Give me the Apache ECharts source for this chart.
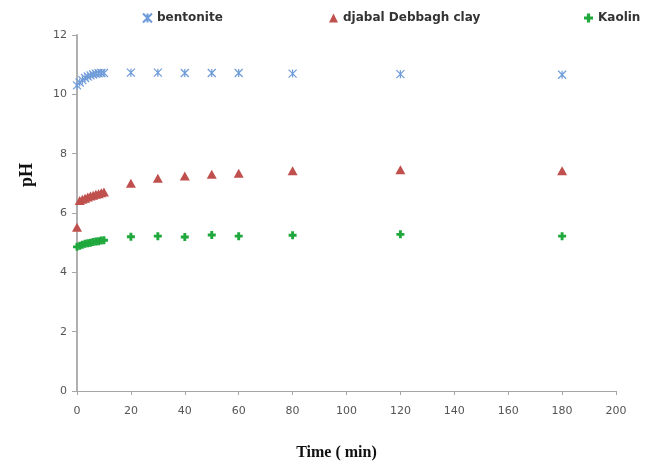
<!DOCTYPE html>
<html><head><meta charset="utf-8">
<script src="https://cdn.jsdelivr.net/npm/echarts@6/dist/echarts.min.js"></script>
<style>html,body{margin:0;padding:0;background:#fff}#c{width:646px;height:468px}</style>
</head><body><div id="c"></div>
<script>
const time = [0,1,2,3,4,5,6,7,8,9,10,20,30,40,50,60,80,120,180];
const bentonite = [10.30,10.40,10.48,10.55,10.60,10.64,10.67,10.70,10.71,10.72,10.72,10.73,10.73,10.72,10.72,10.72,10.70,10.68,10.66];
const djabal = [5.52,6.42,6.46,6.50,6.54,6.57,6.60,6.63,6.65,6.68,6.71,7.00,7.17,7.25,7.31,7.34,7.42,7.46,7.42];
const kaolin = [4.86,4.90,4.93,4.96,4.98,5.00,5.02,5.04,5.05,5.07,5.08,5.20,5.22,5.19,5.26,5.22,5.25,5.28,5.22];
const xTicks = [0,20,40,60,80,100,120,140,160,180,200];
const yTicks = [0,2,4,6,8,10,12];

const pair = arr => time.map((t,i)=>[t,arr[i]]);
const star = 'path://M0,0L10,10M10,0L0,10M5,0L5,10';
const plus = 'path://M3.2,0H6.8V3.2H10V6.8H6.8V10H3.2V6.8H0V3.2H3.2Z';
const tri = 'triangle';
const legTxt = {fontFamily:'DejaVu Sans', fontWeight:'bold', fontSize:12, color:'#333'};
const chart = echarts.init(document.getElementById('c'));
chart.setOption({
  animation:false,
  grid:{left:77, right:30, top:35, bottom:77},
  legend:[
    {data:['bentonite'], left:137, top:7, itemWidth:9, itemHeight:9, itemGap:4, textStyle:legTxt},
    {data:['djabal Debbagh clay'], left:324, top:7, itemWidth:9, itemHeight:9, textStyle:legTxt},
    {data:['Kaolin'], left:579, top:7, itemWidth:9, itemHeight:9, textStyle:legTxt}
  ],
  xAxis:{type:'value', min:0, max:200, interval:20,
    axisLine:{lineStyle:{color:'#a6a6a6', width:1}},
    axisTick:{show:true, length:4, lineStyle:{color:'#a6a6a6'}},
    axisLabel:{color:'#555', fontFamily:'DejaVu Sans', fontSize:11, margin:15,
      formatter:v=>xTicks.includes(v)?String(v):''},
    splitLine:{show:false},
    name:'Time ( min)', nameLocation:'middle', nameGap:54,
    nameTextStyle:{fontFamily:'Liberation Serif', fontWeight:'bold', fontSize:16, color:'#111', padding:[0,20,0,0]}
  },
  yAxis:{type:'value', min:0, max:12, interval:2,
    axisLine:{show:true, lineStyle:{color:'#b0b0b0', width:2}},
    axisTick:{show:true, length:5, lineStyle:{color:'#a6a6a6'}},
    axisLabel:{color:'#555', fontFamily:'DejaVu Sans', fontSize:11, margin:10,
      formatter:v=>yTicks.includes(v)?String(v):''},
    splitLine:{show:false}
  },
  graphic:[{type:'text', left:18, top:163, rotation:Math.PI/2,
    style:{text:'pH', font:'bold 18px "Liberation Serif"', fill:'#111'}}],
  series:[
    {name:'bentonite', type:'scatter', data:pair(bentonite), symbol:star, symbolSize:8,
      itemStyle:{opacity:1, color:'rgba(0,0,0,0)', borderColor:'#6e9bd9', borderWidth:1.2}},
    {name:'djabal Debbagh clay', type:'scatter', data:pair(djabal), symbol:tri, symbolSize:[10,9],
      itemStyle:{opacity:1, color:'#c0504d'}},
    {name:'Kaolin', type:'scatter', data:pair(kaolin), symbol:plus, symbolSize:8,
      itemStyle:{opacity:1, color:'#1fa83c'}}
  ]
});
</script></body></html>
